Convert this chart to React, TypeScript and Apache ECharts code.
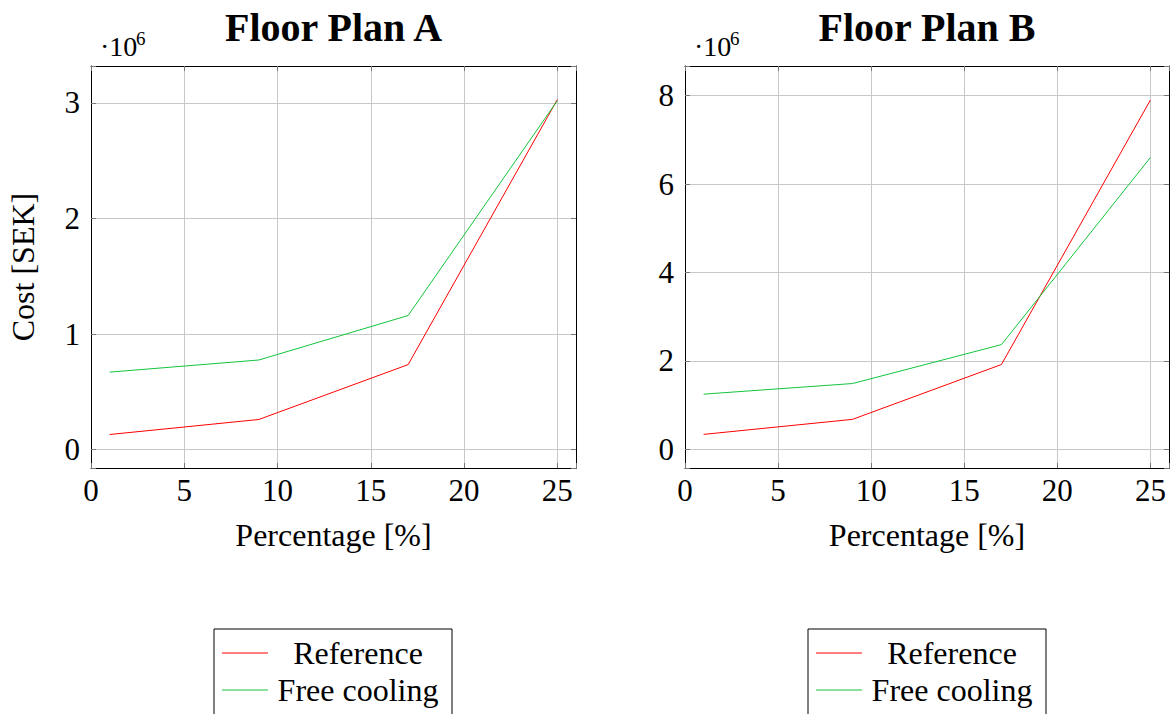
import React, { useEffect, useRef } from "react";
import * as echarts from "echarts";

const percentages = [1, 9, 17, 25];
const referenceA = [0.13, 0.26, 0.735, 3.03];
const freeCoolingA = [0.67, 0.775, 1.16, 3.02];
const referenceB = [0.34, 0.68, 1.92, 7.9];
const freeCoolingB = [1.25, 1.49, 2.37, 6.6];
const titles = ["Floor Plan A", "Floor Plan B"];
const seriesNames = ["Reference", "Free cooling"];

const FONT = "'Liberation Serif', 'DejaVu Serif', serif";
const RED = "#ff0000";
const GREEN = "#14c43c";

const pairs = (ys: number[]) => percentages.map((x, i) => [x, ys[i]]);

export default function App() {
  const ref = useRef<HTMLDivElement>(null);
  useEffect(() => {
    document.body.style.margin = "0";
    const chart = echarts.init(ref.current!, null, { renderer: "svg" });
    const grids = [
      { left: 91, top: 66, width: 485, height: 402 },
      { left: 685, top: 66, width: 484, height: 402 },
    ];
    const yRanges = [
      { min: -0.16, max: 3.32, split: 3 },
      { min: -0.42, max: 8.67, split: 4 },
    ];
    const tickStyle = { show: true, inside: true, length: 5, lineStyle: { color: "#777" } };
    const lineStyleAxis = { show: true, onZero: false, lineStyle: { color: "#000", width: 1 } };
    const xAxes: any[] = [];
    const yAxes: any[] = [];
    grids.forEach((_, g) => {
      xAxes.push({
        type: "value",
        gridIndex: g,
        min: 0,
        max: 26,
        interval: 5,
        name: "Percentage [%]",
        nameLocation: "middle",
        nameGap: 51,
        nameTextStyle: { fontFamily: FONT, fontSize: 32, color: "#000" },
        axisLine: lineStyleAxis,
        axisTick: tickStyle,
        axisLabel: {
          fontFamily: FONT,
          fontSize: 31,
          color: "#000",
          margin: 7,
          formatter: (v: number) => (v % 5 === 0 ? String(v) : ""),
        },
        splitLine: { show: true, lineStyle: { color: "#c8c8c8", width: 1 } },
      });
      xAxes.push({
        type: "value",
        gridIndex: g,
        position: "top",
        min: 0,
        max: 26,
        interval: 5,
        axisLine: lineStyleAxis,
        axisTick: tickStyle,
        axisLabel: { show: false },
        splitLine: { show: false },
      });
      const yr = yRanges[g];
      yAxes.push({
        type: "value",
        gridIndex: g,
        min: yr.min,
        max: yr.max,
        splitNumber: yr.split,
        name: g === 0 ? "Cost [SEK]" : "",
        nameLocation: "middle",
        nameGap: 52,
        nameTextStyle: { fontFamily: FONT, fontSize: 32, color: "#000" },
        axisLine: lineStyleAxis,
        axisTick: tickStyle,
        axisLabel: {
          fontFamily: FONT,
          fontSize: 31,
          color: "#000",
          margin: 11,
          formatter: (v: number) => (Number.isInteger(v) ? String(v) : ""),
        },
        splitLine: { show: true, lineStyle: { color: "#c8c8c8", width: 1 } },
      });
      yAxes.push({
        type: "value",
        gridIndex: g,
        position: "right",
        min: yr.min,
        max: yr.max,
        splitNumber: yr.split,
        axisLine: lineStyleAxis,
        axisTick: tickStyle,
        axisLabel: { show: false },
        splitLine: { show: false },
      });
    });

    const data = [
      [referenceA, freeCoolingA],
      [referenceB, freeCoolingB],
    ];
    const series: any[] = [];
    data.forEach((pair, g) => {
      pair.forEach((ys, k) => {
        series.push({
          type: "line",
          name: seriesNames[k],
          xAxisIndex: g * 2,
          yAxisIndex: g * 2,
          data: pairs(ys),
          showSymbol: false,
          symbol: "none",
          color: k === 0 ? RED : GREEN,
          lineStyle: { width: 1, color: k === 0 ? RED : GREEN },
        });
      });
    });

    const legendBase = (left: number) => ({
      orient: "vertical",
      left,
      top: 629,
      height: 300,
      padding: [8, 9, 30, 8],
      itemGap: 5,
      itemWidth: 46,
      itemHeight: 1.2,
      icon: "rect",
      borderColor: "#000",
      borderWidth: 1,
      selectedMode: false,
      data: seriesNames,
      formatter: "{c|{name}}",
      textStyle: {
        rich: {
          c: { width: 170, align: "center", fontFamily: FONT, fontSize: 32, color: "#000", lineHeight: 32 },
        },
      },
    });

    const graphics: any[] = [];
    grids.forEach((gr, g) => {
      graphics.push({
        type: "text",
        x: gr.left + gr.width / 2,
        y: 27,
        style: {
          text: titles[g],
          fontFamily: FONT,
          fontSize: 40,
          fontWeight: "bold",
          fill: "#000",
          textAlign: "center",
          textVerticalAlign: "middle",
        },
      });
      graphics.push({
        type: "text",
        x: gr.left + 9,
        y: 46,
        style: {
          text: "·10",
          fontFamily: FONT,
          fontSize: 28,
          fill: "#000",
          textAlign: "left",
          textVerticalAlign: "middle",
        },
      });
      graphics.push({
        type: "text",
        x: gr.left + 45,
        y: 38,
        style: {
          text: "6",
          fontFamily: FONT,
          fontSize: 19,
          fill: "#000",
          textAlign: "left",
          textVerticalAlign: "middle",
        },
      });
    });

    chart.setOption({
      animation: false,
      backgroundColor: "#fff",
      grid: grids.map((g) => ({ ...g, show: false, containLabel: false })),
      xAxis: xAxes,
      yAxis: yAxes,
      series,
      legend: [legendBase(214), legendBase(808)],
      graphic: graphics,
    });
    return () => chart.dispose();
  }, []);
  return <div ref={ref} style={{ width: 1172, height: 714 }} />;
}
